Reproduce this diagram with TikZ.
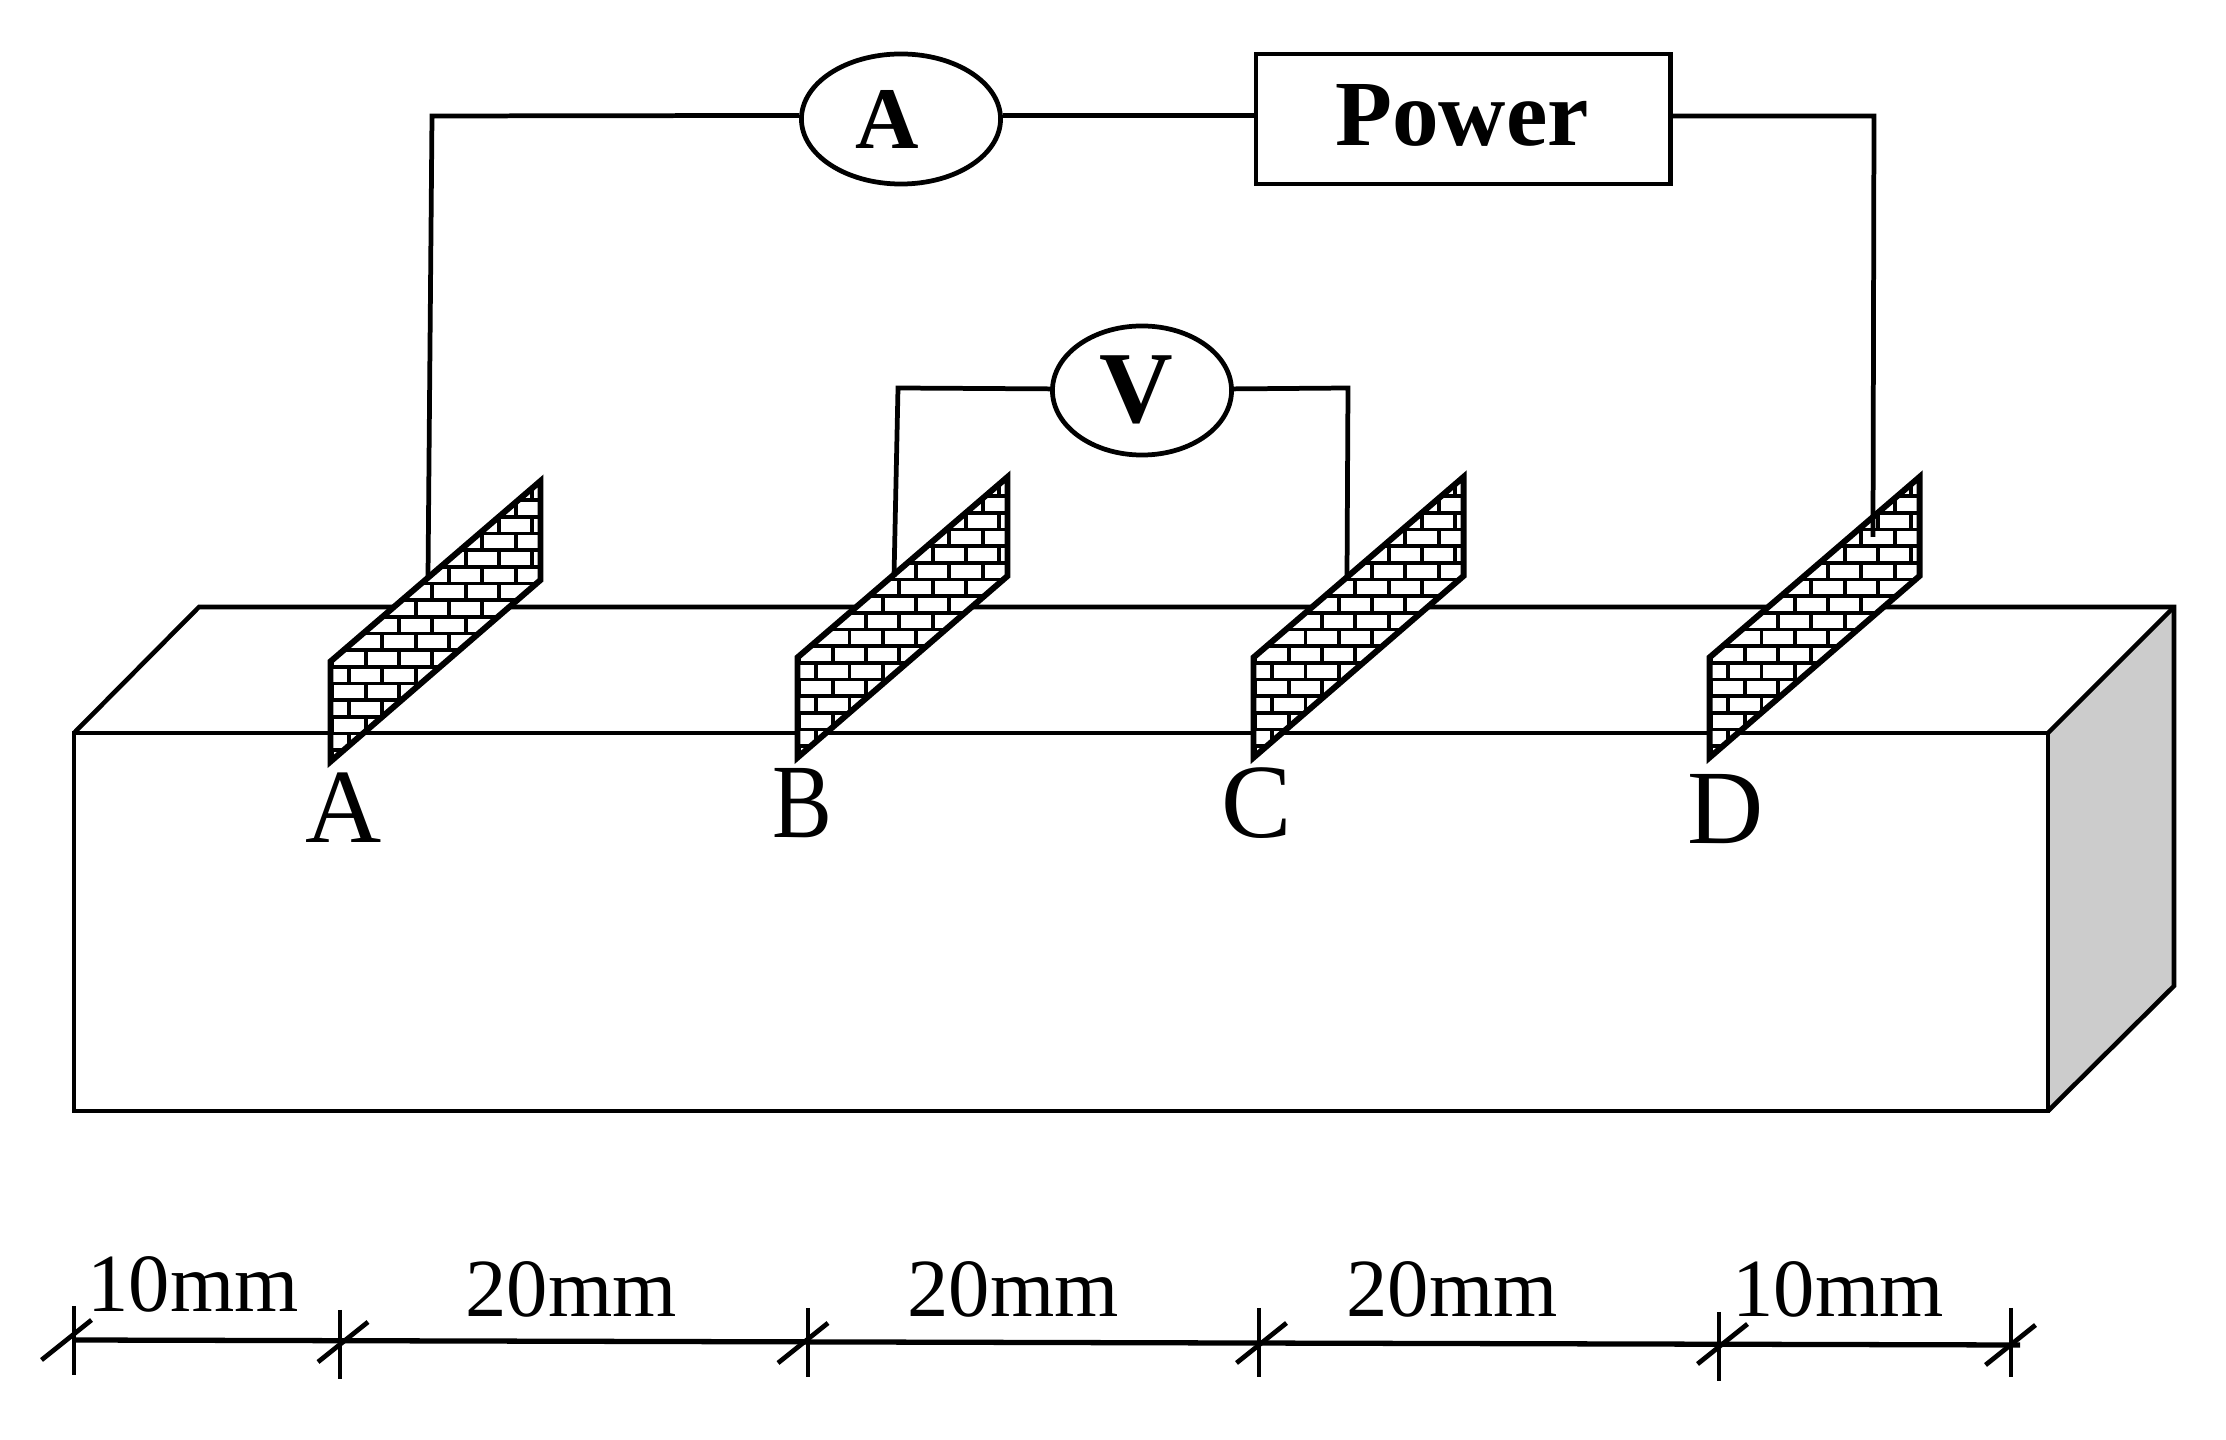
\documentclass[tikz,border=0pt]{standalone}
\usepackage{fontspec}
\setmainfont{Liberation Serif}
\usetikzlibrary{shapes.geometric}
\tikzset{
  wire/.style={draw=black, line width=1.35pt},
  meter/.style={ellipse, draw=black, line width=1.35pt, inner sep=0pt},
  powerbox/.style={rectangle, draw=black, line width=1.35pt, inner sep=0pt, minimum width=4.14cm, minimum height=1.3cm},
  edge line/.style={draw=black, line width=1.3pt, line join=miter},
  plate/.style={draw=black, line width=1.7pt, line join=miter},
  brick/.style={draw=black, line width=1.05pt},
  dim line/.style={draw=black, line width=1.5pt},
  tick/.style={draw=black, line width=0.95pt},
  slash/.style={draw=black, line width=1.35pt},
  dim text/.style={anchor=base, inner sep=0pt, font=\fontsize{23.5}{28}\selectfont},
  point text/.style={anchor=base, inner sep=0pt, font=\fontsize{30}{36}\selectfont},
  meter text/.style={anchor=base, inner sep=0pt, font=\fontsize{#1}{#1}\selectfont\bfseries},
}
% one brick electrode, drawn at the place of A and moved by #1,#2
\newcommand{\electrode}[2]{
  \begin{scope}[shift={(#1,#2)}]
    \fill[white] (330.5,661.5) -- (540.5,481) -- (540.5,580) -- (330.5,761.6) -- cycle;
    \begin{scope}
      \clip (330.5,661.5) -- (540.5,481) -- (540.5,580) -- (330.5,761.6) -- cycle;
      \foreach \k in {-6,...,12}{
        \pgfmathsetmacro\yt{566.7+\k*16.67}
        \pgfmathsetmacro\off{mod(\k+6,2)*16.67}
        \draw[brick] (320,\yt) -- (550,\yt);
        \foreach \j in {-4,...,3}
          \draw[brick] ({449+\j*33.33-\off},\yt) -- ++(0,16.67);
      }
    \end{scope}
    \draw[plate] (330.5,661.5) -- (540.5,481) -- (540.5,580) -- (330.5,761.6) -- cycle;
  \end{scope}
}
\begin{document}
\begin{tikzpicture}[x=0.01cm, y=-0.01cm]
  \useasboundingbox (0,0) rectangle (2226,1440);
  \fill[white] (0,0) rectangle (2226,1440);

  % the block
  \fill[black!20] (2048,733) -- (2174,607) -- (2174,986) -- (2048,1111) -- cycle;
  \draw[edge line] (74,733) rectangle (2048,1111);
  \draw[edge line] (74,733) -- (199,607) -- (2174,607) -- (2174,986) -- (2048,1111);
  \draw[edge line] (2048,733) -- (2174,607);

  % electrodes
  \electrode{0}{0}
  \electrode{467}{-4}
  \electrode{923}{-4}
  \electrode{1379}{-4}

  % meters and source
  \node[meter, minimum width=1.99cm, minimum height=1.3cm] (mA) at (901,119) {};
  \node[meter, minimum width=1.79cm, minimum height=1.29cm] (mV) at (1142,390.5) {};
  \node[powerbox] (pw) at (1463,119) {};
  \node[meter text=25] (mAt) at (887,149) {A};
  \node[meter text=29] (mVt) at (1136,423) {V};
  \node[meter text=26.5, anchor=base] (pwt) at (1462,146) {Power};

  % wires
  \coordinate (cA) at (432,116);
  \coordinate (eA) at (428,577);
  \coordinate (cB) at (898,388);
  \coordinate (eB) at (894,577);
  \coordinate (cC) at (1348,388);
  \coordinate (eC) at (1347,577);
  \coordinate (cD) at (1874,116);
  \coordinate (eD) at (1873,537);
  \draw[wire] (mA.178) -- (cA) -- (eA);
  \draw[wire] (mA.2) -- (mA.2 -| pw.west);
  \draw[wire] (pw.east |- cD) -- (cD) -- (eD);
  \draw[wire] (mV.179) -- (cB) -- (eB);
  \draw[wire] (mV.1) -- (cC) -- (eC);

  % electrode letters
  \node[point text] (la) at (343.5,843) {A};
  \node[point text, xscale=0.85] (lb) at (802,838) {B};
  \node[point text] (lc) at (1256.5,838) {C};
  \node[point text] (ld) at (1726,844) {D};

  % dimension line
  \coordinate (d0) at (74,1340);
  \coordinate (d1) at (2020,1345);
  \draw[dim line] (d0) -- (d1);
  \foreach \x/\yv/\yl/\s in {74/1340.5/1340/-7.5, 340/1344.5/1342/3, 808/1342.5/1343/-5,
                             1259/1342.5/1343/2.5, 1719/1346.5/1344/3.5, 2011/1342.5/1345/-0.5}{
    \draw[tick] (\x,{\yv-34.5}) -- (\x,{\yv+34.5});
    \draw[slash] ({\x+\s-25},{\yl+20}) -- ({\x+\s+25},{\yl-20});
  }
  \node[dim text] (w1) at (193,1312) {10mm};
  \node[dim text] (w2) at (571,1317) {20mm};
  \node[dim text] (w3) at (1013,1317) {20mm};
  \node[dim text] (w4) at (1452,1317) {20mm};
  \node[dim text] (w5) at (1838,1317) {10mm};
\end{tikzpicture}
\end{document}
